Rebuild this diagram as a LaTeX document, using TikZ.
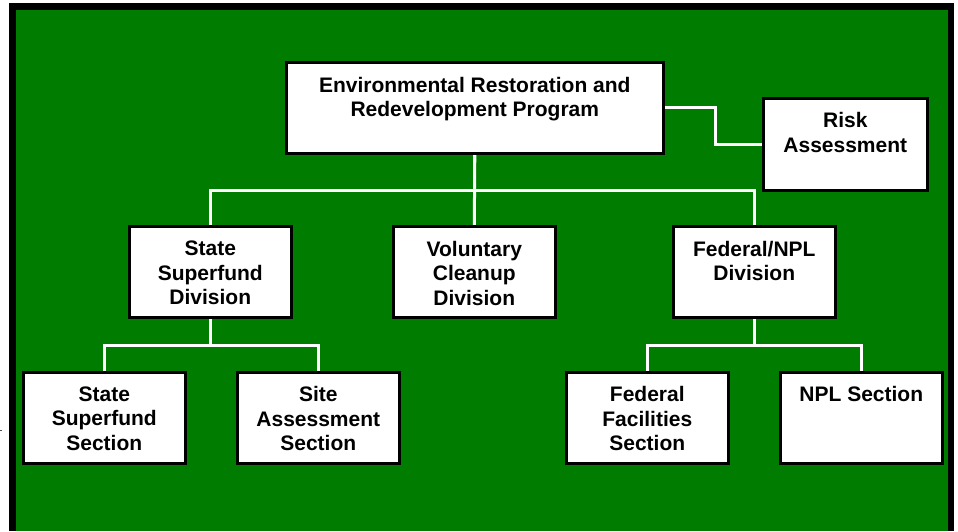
\documentclass[tikz,border=0pt]{standalone}
\usepackage{fontspec}
\setmainfont{Liberation Sans}
\definecolor{bggreen}{HTML}{007C00}
\pgfdeclarelayer{bglayer}
\pgfdeclarelayer{connlayer}
\pgfsetlayers{bglayer,connlayer,main}
\begin{document}
\begin{tikzpicture}[x=1pt,y=-1pt,
  orgbox/.style={draw=black,line width=2.6pt,fill=white,rectangle,inner sep=0pt,
    minimum width=162pt,minimum height=91pt,anchor=north west},
  lbl/.style={font=\fontsize{21}{24.5}\selectfont\bfseries,align=center,inner sep=0pt,anchor=north,text=black},
  conn/.style={draw=white,line width=3pt}
]
\useasboundingbox (0,0) rectangle (958,531);
\begin{pgfonlayer}{bglayer}
\fill[white] (0,0) rectangle (958,531);
\fill[black] (9,3) rectangle (954,531);
\fill[bggreen] (16,9.5) rectangle (948,531);
\fill[black!70] (0,429.5) rectangle (2,430.6);
\end{pgfonlayer}

% boxes
\node[orgbox,minimum width=377pt,minimum height=91pt] (main) at (285,61) {};
\node[orgbox,minimum width=164pt,minimum height=92pt] (risk) at (762,97) {};
\node[orgbox] (sdiv) at (128,225) {};
\node[orgbox] (vdiv) at (392,225) {};
\node[orgbox] (fdiv) at (672,225) {};
\node[orgbox] (sss) at (22,371) {};
\node[orgbox] (sas) at (236,371) {};
\node[orgbox] (ffs) at (565,371) {};
\node[orgbox] (npl) at (779,371) {};

% connectors
\begin{pgfonlayer}{connlayer}
\draw[conn] (main.south) -- ++(0,36) -| (sdiv.north);
\draw[conn] (main.south) -- ++(0,36) -| (fdiv.north);
\draw[conn] (main.south) -- (vdiv.north);
\draw[conn] (main.east) -- ++(51,0) |- (risk.west);
\draw[conn] (sdiv.south) -- ++(0,27) -| (sss.north);
\draw[conn] (sdiv.south) -- ++(0,27) -| (sas.north);
\draw[conn] (fdiv.south) -- ++(0,27) -| (ffs.north);
\draw[conn] (fdiv.south) -- ++(0,27) -| (npl.north);
\end{pgfonlayer}

% labels
\node[lbl] (main-t) at ([yshift=-16]main.north) {Environmental Restoration and\\Redevelopment Program};
\node[lbl] (risk-t) at ([yshift=-15.5]risk.north) {Risk\\Assessment};
\node[lbl] (sdiv-t) at ([yshift=-16]sdiv.north) {State\\Superfund\\Division};
\node[lbl] (vdiv-t) at ([yshift=-16]vdiv.north) {Voluntary\\Cleanup\\Division};
\node[lbl] (fdiv-t) at ([yshift=-16]fdiv.north) {Federal/NPL\\Division};
\node[lbl] (sss-t) at ([yshift=-15.5]sss.north) {State\\Superfund\\Section};
\node[lbl] (sas-t) at ([yshift=-15.5]sas.north) {Site\\Assessment\\Section};
\node[lbl] (ffs-t) at ([yshift=-15.5]ffs.north) {Federal\\Facilities\\Section};
\node[lbl] (npl-t) at ([yshift=-15.5]npl.north) {NPL Section};
\end{tikzpicture}
\end{document}
